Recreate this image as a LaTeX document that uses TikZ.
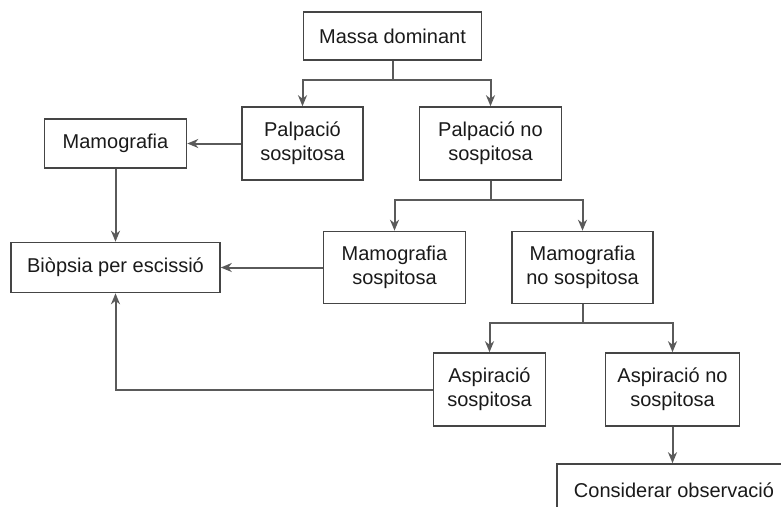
\documentclass[tikz,border=0pt]{standalone}
\usepackage{fontspec}
\setmainfont{Liberation Sans}
\usetikzlibrary{arrows.meta}
\definecolor{linec}{HTML}{5A5A5A}
\definecolor{boxc}{HTML}{454545}
\definecolor{txtc}{HTML}{1A1A1A}
\begin{document}
\begin{tikzpicture}[x=1pt,y=-1pt,
  box/.style={draw=boxc,line width=1.6pt,fill=white,inner sep=0pt,
    align=center,text=txtc,font=\fontsize{20}{24}\selectfont},
  conn/.style={draw=linec,line width=2pt},
  arr/.style={conn,-{Stealth[length=11pt,width=9pt,inset=3.5pt]}}]
\useasboundingbox (0,0) rectangle (781,506);
\clip (0,0) rectangle (781,506);
\fill[white] (0,0) rectangle (781,506);
\node[box,minimum width=178pt,minimum height=48pt] (massa) at (392.5,36) {Massa dominant};
\node[box,minimum width=121pt,minimum height=73pt] (palpS) at (302.5,143.5) {Palpació\\sospitosa};
\node[box,minimum width=142pt,minimum height=73pt] (palpNS) at (490.5,143.5) {Palpació no\\sospitosa};
\node[box,minimum width=142pt,minimum height=49pt] (mamo) at (115.5,143.5) {Mamografia};
\node[box,minimum width=209pt,minimum height=50pt] (biop) at (115.5,267.5) {Biòpsia per escissió};
\node[box,minimum width=142pt,minimum height=72pt] (mamoS) at (394.5,267.5) {Mamografia\\sospitosa};
\node[box,minimum width=141pt,minimum height=72pt] (mamoNS) at (582.5,267.5) {Mamografia\\no sospitosa};
\node[box,minimum width=112pt,minimum height=73pt] (aspS) at (489.5,389.5) {Aspiració\\sospitosa};
\node[box,minimum width=134pt,minimum height=73pt] (aspNS) at (672.5,389.5) {Aspiració no\\sospitosa};
\node[box,minimum width=234pt,minimum height=52pt] (cons) at (674,490) {Considerar observació};
% connectors
\coordinate (j1) at (392.5,79.5);
\draw[conn] (massa.south) -- (j1);
\draw[arr] (j1) -| (palpS.north);
\draw[arr] (j1) -| (palpNS.north);
\draw[arr] (palpS.west) -- (mamo.east);
\draw[arr] (mamo.south) -- (biop.north);
\coordinate (j2) at (490.5,199.5);
\draw[conn] (palpNS.south) -- (j2);
\draw[arr] (j2) -| (mamoS.north);
\draw[arr] (j2) -| (mamoNS.north);
\draw[arr] (mamoS.west) -- (biop.east);
\coordinate (j3) at (582.5,322.5);
\draw[conn] (mamoNS.south) -- (j3);
\draw[arr] (j3) -| (aspS.north);
\draw[arr] (j3) -| (aspNS.north);
\draw[arr] (aspS.west) -| (biop.south);
\draw[arr] (aspNS.south) -- (aspNS.south |- cons.north);
\end{tikzpicture}
\end{document}
